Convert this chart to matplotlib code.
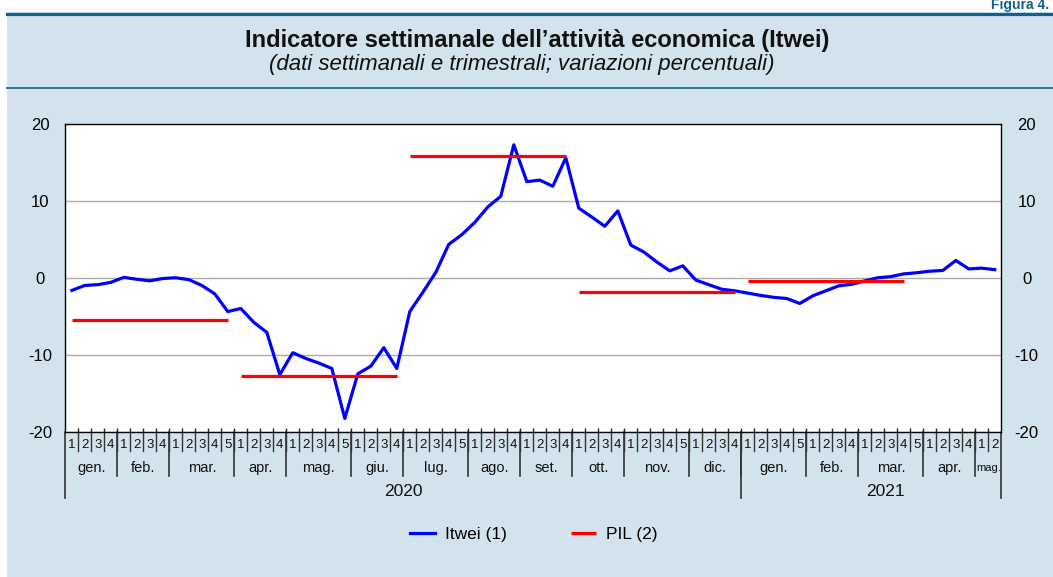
import matplotlib
matplotlib.use('Agg')
import matplotlib.pyplot as plt
import matplotlib.transforms as mtransforms
from matplotlib.patches import Rectangle
from matplotlib.lines import Line2D
import numpy as np

plt.rcParams['font.family'] = ['Liberation Sans', 'DejaVu Sans']

# months and number of weeks in each
months_2020 = ['gen.', 'feb.', 'mar.', 'apr.', 'mag.', 'giu.',
               'lug.', 'ago.', 'set.', 'ott.', 'nov.', 'dic.']
weeks_2020 = [4, 4, 5, 4, 5, 4, 5, 4, 4, 4, 5, 4]
months_2021 = ['gen.', 'feb.', 'mar.', 'apr.', 'mag.']
weeks_2021 = [5, 4, 5, 4, 2]
years = ['2020', '2021']

# Itwei, weekly values (one per week)
itwei = [-1.65, -1.0, -0.9, -0.6, 0.05, -0.2, -0.4, -0.1, 0.0, -0.25,
         -1.0, -2.1, -4.4, -4.0, -5.8, -7.1, -12.6, -9.75, -10.5, -11.1,
         -11.8, -18.3, -12.5, -11.5, -9.1, -11.8, -4.4, -1.9, 0.7, 4.35,
         5.6, 7.2, 9.2, 10.6, 17.3, 12.5, 12.7, 11.9, 15.6, 9.05,
         7.9, 6.7, 8.7, 4.25, 3.35, 2.05, 0.9, 1.55, -0.3, -0.9,
         -1.5, -1.7, -2.0, -2.3, -2.55, -2.7, -3.35, -2.35, -1.7, -1.05,
         -0.85, -0.4, 0.0, 0.15, 0.5, 0.65, 0.85, 0.95, 2.25, 1.15,
         1.25, 1.05]

# PIL, quarterly: first week, last week, value
pil_start = [0, 13, 26, 39, 52]
pil_end = [12, 25, 38, 51, 64]
pil = [-5.5, -12.8, 15.8, -1.85, -0.38]

W, H = 1053, 577
fig = plt.figure(figsize=(W / 100, H / 100), dpi=100)
fig.patch.set_facecolor('white')
bg = '#D2E3EE'
teal = '#11618B'

def fy(py):
    # pixel row from top -> figure fraction
    return 1 - py / H

fig.add_artist(Rectangle((7 / W, 0), 1 - 7 / W, fy(12), transform=fig.transFigure,
                         facecolor=bg, edgecolor='none', zorder=-10))
fig.add_artist(Line2D([7 / W, 1], [fy(13.5)] * 2, color=teal, lw=2.3, zorder=-5))
fig.add_artist(Line2D([7 / W, 1], [fy(87.5)] * 2, color=teal, lw=1.2, zorder=-5))

fig.text(1049 / W, fy(9.5), 'Figura 4.', ha='right', va='baseline', fontsize=10,
         fontweight='bold', color=teal)
fig.text(537 / W, fy(40), "Indicatore settimanale dell\u2019attivit\u00e0 economica (Itwei)",
         ha='center', va='center', fontsize=17, fontweight='bold', color='#111111')
fig.text(522 / W, fy(64.5), '(dati settimanali e trimestrali; variazioni percentuali)',
         ha='center', va='center', fontsize=16, fontstyle='italic', color='#111111')

ax_l, ax_r, ax_t, ax_b = 65.3, 1001.3, 124, 431.5
ax = fig.add_axes([ax_l / W, fy(ax_b), (ax_r - ax_l) / W, (ax_b - ax_t) / H])
ax.set_facecolor('white')

x = np.arange(len(itwei))
ax.plot(x, itwei, color='#0000FF', lw=2.3, label='Itwei (1)', zorder=3)
for k, (s, e, v) in enumerate(zip(pil_start, pil_end, pil)):
    ax.plot([s, e], [v, v], color='#FF0000', lw=2.3, solid_capstyle='butt',
            label='PIL (2)' if k == 0 else None, zorder=4)

n = len(itwei)
ax.set_xlim(-0.5, n - 0.5)
ax.set_ylim(-20, 20)
ax.set_yticks([-20, -10, 0, 10, 20])
ax.set_yticklabels(['-20', '-10', '0', '10', '20'])
ax.grid(axis='y', color='#ABABAB', lw=1)
ax.tick_params(axis='y', length=0, labelsize=12, labelright=True, labelleft=True)
for t in ax.yaxis.get_major_ticks():
    t.label1.set_horizontalalignment('center')
    t.label2.set_horizontalalignment('center')
    t.set_pad(18.2)
ax.set_xticks(np.arange(0.5, n - 1, 1))
ax.tick_params(axis='x', direction='in', length=3, width=1, color='#222222',
               labelbottom=False)
for sp in ax.spines.values():
    sp.set_color('black')
    sp.set_linewidth(1)

# category axis below the plot
trans = mtransforms.blended_transform_factory(ax.transData, fig.transFigure)
lc = '#333333'
all_weeks = weeks_2020 + weeks_2021
all_months = months_2020 + months_2021
bounds = np.cumsum([0] + all_weeks) - 0.5
for b in np.arange(0.5, n - 1, 1):
    ax.add_line(Line2D([b, b], [fy(ax_b), fy(450.7)], transform=trans, color=lc,
                       lw=1, clip_on=False))
for b in bounds[1:-1]:
    ax.add_line(Line2D([b, b], [fy(ax_b), fy(476)], transform=trans, color=lc,
                       lw=1.2, clip_on=False))
year_bounds = [-0.5, sum(weeks_2020) - 0.5, n - 0.5]
for b in year_bounds:
    ax.add_line(Line2D([b, b], [fy(ax_b), fy(498)], transform=trans, color=lc,
                       lw=1.2, clip_on=False))

i = 0
for name, nw in zip(all_months, all_weeks):
    for w in range(nw):
        fig.text(i + w, fy(445.5), str(w + 1), transform=trans, ha='center',
                 va='center', fontsize=9.5, color='#111111')
    small = nw < 3
    fig.text(i + (nw - 1) / 2, fy(468), name, transform=trans, ha='center',
             va='center', fontsize=8 if small else 10.5, color='#111111')
    i += nw

y0 = 0
for k, (yr, wk) in enumerate(zip(years, [weeks_2020, weeks_2021])):
    nw = sum(wk)
    cx = y0 + (nw - 1) / 2
    if k == 1:
        cx += 1.1  # label sits a little right of centre in the original
    fig.text(cx, fy(491), yr, transform=trans, ha='center', va='center',
             fontsize=12.5, color='#111111')
    y0 += nw

fig.legend(loc='center', bbox_to_anchor=(534 / W, fy(534)), ncol=2, frameon=False,
           fontsize=12.5, handlelength=1.4, handletextpad=0.6, columnspacing=3.7)

fig.savefig('out.png', dpi=100, facecolor=fig.get_facecolor())
